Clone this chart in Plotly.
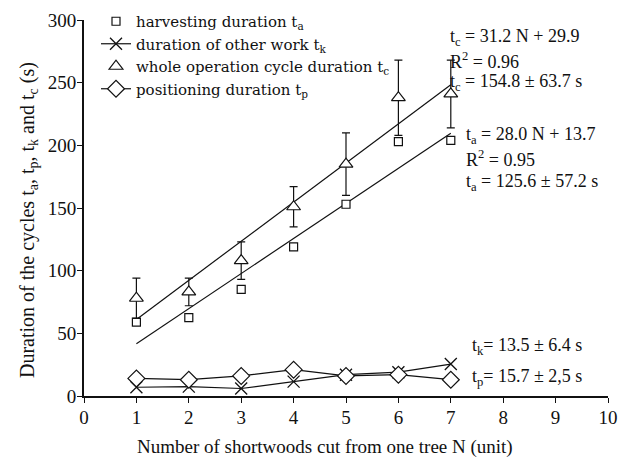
import plotly.graph_objects as go

N = [1, 2, 3, 4, 5, 6, 7]
t_a = [59, 62.5, 85, 119, 153, 203, 204]
t_k = [7, 7.5, 6, 11.5, 17, 19, 25.5]
t_c = [78, 83, 108, 151, 185, 238, 241]
t_c_err = [16, 11, 15, 16, 25, 30, 27]
t_p = [14, 13, 16, 21, 16, 17, 13]

fit_N = [1, 7]
fit_c = (31.2, 29.9)
fit_a = (28.0, 13.7)

x_ticks = list(range(0, 11))
y_ticks = [0, 50, 100, 150, 200, 250, 300]

x_title = "Number of shortwoods cut from one tree N (unit)"
y_title = "Duration of the cycles t<sub>a</sub>, t<sub>p</sub>, t<sub>k</sub> and t<sub>c</sub> (s)"

FONT = "Liberation Serif"
LFONT = "DejaVu Serif"
BLK = "#111111"

fig = go.Figure()

fig.add_trace(go.Scatter(x=fit_N, y=[fit_c[0] * n + fit_c[1] for n in fit_N], mode="lines",
                         line=dict(color=BLK, width=1.2), showlegend=False, hoverinfo="skip"))
fig.add_trace(go.Scatter(x=fit_N, y=[fit_a[0] * n + fit_a[1] for n in fit_N], mode="lines",
                         line=dict(color=BLK, width=1.2), showlegend=False, hoverinfo="skip"))

fig.add_trace(go.Scatter(x=N, y=t_a, mode="markers", name="harvesting duration t<sub>a</sub>",
                         marker=dict(symbol="square", size=8, color="white", line=dict(width=1.2, color=BLK))))
fig.add_trace(go.Scatter(x=N, y=t_k, mode="lines+markers", name="duration of other work t<sub>k</sub>",
                         line=dict(color=BLK, width=1.2),
                         marker=dict(symbol="x-thin-open", size=12, color=BLK, line=dict(width=1.3, color=BLK))))
fig.add_trace(go.Scatter(x=N, y=t_c, mode="markers", name="whole operation cycle duration t<sub>c</sub>",
                         marker=dict(symbol="triangle-up", size=12, color="white", line=dict(width=1.2, color=BLK)),
                         error_y=dict(type="data", array=t_c_err, visible=True, color=BLK, thickness=1.2, width=4)))
fig.add_trace(go.Scatter(x=N, y=t_p, mode="lines+markers", name="positioning duration t<sub>p</sub>",
                         line=dict(color=BLK, width=1.2),
                         marker=dict(symbol="diamond", size=13, color="white", line=dict(width=1.2, color=BLK))))

ann = [
    (448, 37, "t<sub>c</sub> = 31.2 N + 29.9"),
    (448, 60, "R<sup>2</sup> = 0.96"),
    (448, 83, "t<sub>c</sub> = 154.8 ± 63.7 s"),
    (464, 135, "t<sub>a</sub> = 28.0 N + 13.7"),
    (464, 158, "R<sup>2</sup> = 0.95"),
    (464, 182, "t<sub>a</sub> = 125.6 ± 57.2 s"),
    (470, 346, "t<sub>k</sub>= 13.5 ± 6.4 s"),
    (470, 377, "t<sub>p</sub>= 15.7 ± 2,5 s"),
]
L, R, T, B = 84, 608, 20, 396


def px2paper(px, py):
    return (px - L) / (R - L), (B - py) / (B - T)


for px, py, txt in ann:
    x, y = px2paper(px, py)
    fig.add_annotation(x=x, y=y, xref="paper", yref="paper", xanchor="left", yanchor="middle",
                       text=txt, showarrow=False, font=dict(family=FONT, size=18, color=BLK))

# axis titles
x, y = px2paper(325, 447)
fig.add_annotation(x=x, y=y, xref="paper", yref="paper", xanchor="center", yanchor="middle",
                   text=x_title, showarrow=False, font=dict(family=FONT, size=19, color=BLK))
x, y = px2paper(28, 220)
fig.add_annotation(x=x, y=y, xref="paper", yref="paper", xanchor="center", yanchor="middle", textangle=-90,
                   text=y_title, showarrow=False, font=dict(family=FONT, size=20, color=BLK))

fig.update_layout(
    width=634, height=458,
    margin=dict(l=L, r=634 - R, t=T, b=458 - B, autoexpand=False),
    paper_bgcolor="white", plot_bgcolor="white",
    font=dict(family=FONT, size=19, color=BLK),
    showlegend=True,
    legend=dict(xref="container", yref="container", x=96 / 634, y=1 - 5 / 458,
                xanchor="left", yanchor="top", bgcolor="rgba(0,0,0,0)",
                font=dict(family=LFONT, size=15, color=BLK), tracegroupgap=0, itemwidth=30),
    xaxis=dict(range=[0, 10], tickvals=x_ticks, ticks="outside", ticklen=5, tickcolor=BLK,
               showline=True, linecolor=BLK, linewidth=1.5, showgrid=False, zeroline=False,
               ticklabelstandoff=-2, tickfont=dict(size=19)),
    yaxis=dict(range=[0, 300], tickvals=y_ticks, ticks="outside", ticklen=5, tickcolor=BLK,
               showline=True, linecolor=BLK, linewidth=2, showgrid=False, zeroline=False,
               ticklabelstandoff=-3, tickfont=dict(size=19)),
)

fig.write_html("out.html", config={"displayModeBar": False},
               post_script="document.body.style.margin='0';")
